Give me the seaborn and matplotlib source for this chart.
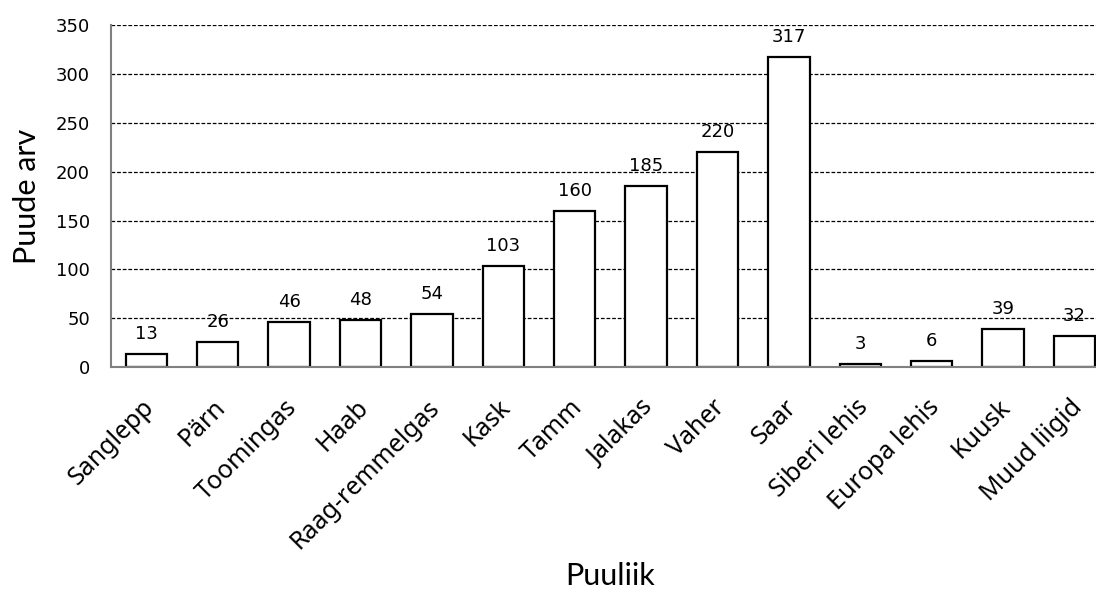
import matplotlib
matplotlib.use("Agg")
import matplotlib.pyplot as plt
import matplotlib.transforms as mtransforms
import seaborn as sns

species = ["Sanglepp", "Pärn", "Toomingas", "Haab", "Raag-remmelgas", "Kask", "Tamm",
           "Jalakas", "Vaher", "Saar", "Siberi lehis", "Europa lehis", "Kuusk", "Muud liigid"]
counts = [13, 26, 46, 48, 54, 103, 160, 185, 220, 317, 3, 6, 39, 32]
y_ticks = [0, 50, 100, 150, 200, 250, 300, 350]

sns.set_style("white")
plt.rcParams["font.family"] = ["DejaVu Sans"]
plt.rcParams["text.color"] = "black"
plt.rcParams["xtick.color"] = "black"
plt.rcParams["ytick.color"] = "black"
plt.rcParams["axes.labelcolor"] = "black"

fig = plt.figure(figsize=(10.96, 5.97), dpi=100)
ax = fig.add_axes([0.101, 0.385, 0.912, 0.573])

ax.set_axisbelow(True)
ax.yaxis.grid(True, color="black", linestyle=(0, (3, 1.5)), linewidth=0.9)

sns.barplot(x=species, y=counts, color="white", edgecolor="black", linewidth=1.6,
            width=0.58, saturation=1, ax=ax)

for c in ax.containers:
    ax.bar_label(c, padding=8, fontsize=13, color="black")

ax.set_ylim(0, 350)
ax.set_yticks(y_ticks)
ax.tick_params(axis="both", length=0)
ax.tick_params(axis="y", labelsize=13, pad=15)
ax.tick_params(axis="x", labelsize=18, pad=20)
shift = mtransforms.ScaledTranslation(-5 / 100, 0, fig.dpi_scale_trans)
for lbl in ax.get_xticklabels():
    lbl.set_rotation(45)
    lbl.set_ha("right")
    lbl.set_rotation_mode("anchor")
    lbl.set_family("Noto Sans")
    lbl.set_transform(lbl.get_transform() + shift)

for s in ["top", "right"]:
    ax.spines[s].set_visible(False)
for s in ["left", "bottom"]:
    ax.spines[s].set_color("#808080")
    ax.spines[s].set_linewidth(1.5)

ax.set_xlabel("Puuliik", fontsize=22, family="Lato")
ax.set_ylabel("Puude arv", fontsize=22, family="Lato")
ax.xaxis.set_label_coords(0.5, -0.57)
ax.yaxis.set_label_coords(-0.07, 0.5)

fig.savefig("out.png", dpi=100)
plt.close(fig)
